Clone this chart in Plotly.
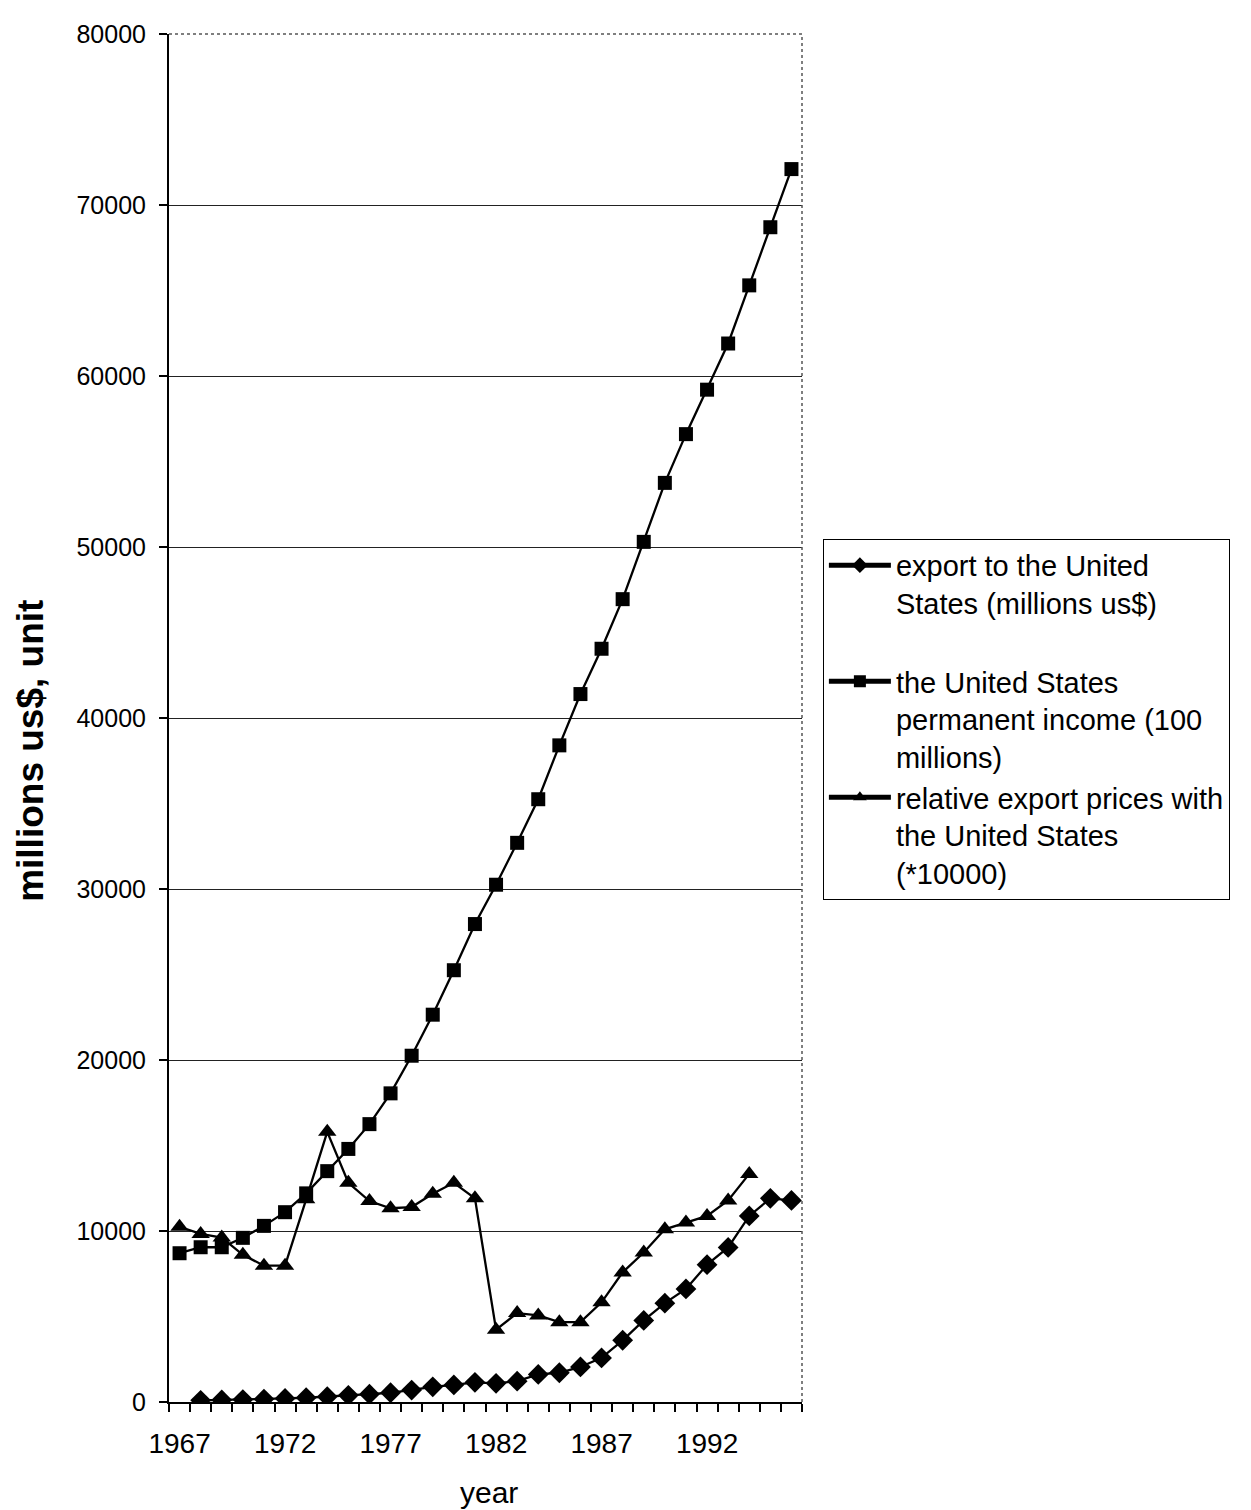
import plotly.graph_objects as go

years = list(range(1967, 1997))
export_us = [None, 100, 120, 140, 170, 210, 250, 310, 390, 460, 540, 700, 890, 1000, 1150,
             1090, 1220, 1610, 1710, 2050, 2580, 3610, 4770, 5780, 6610, 8030, 9040, 10880, 11910, 11790]
us_income = [8700, 9050, 9050, 9600, 10300, 11100, 12200, 13500, 14800, 16250, 18050, 20250, 22650,
             25250, 27950, 30250, 32700, 35250, 38400, 41400, 44050, 46950, 50300, 53750, 56600,
             59200, 61900, 65300, 68700, 72100]
rel_prices = [10250, 9830, 9620, 8610, 7970, 7970, 11850, 15800, 12820, 11750, 11330, 11400, 12180,
              12820, 11910, 4230, 5200, 5060, 4670, 4670, 5830, 7580, 8740, 10100, 10490, 10880,
              11790, 13340, None, None]
names = ["export to the United<br>States (millions us$)<br> ",
         "the United States<br>permanent income (100<br>millions)",
         "relative export prices with<br>the United States<br>(*10000)"]
x_ticks = [1967, 1972, 1977, 1982, 1987, 1992]
y_ticks = [0, 10000, 20000, 30000, 40000, 50000, 60000, 70000, 80000]

FONT = "Arial, Liberation Sans, sans-serif"

fig = go.Figure()
series = [(export_us, "diamond", 16), (us_income, "square", 14), (rel_prices, "triangle-up", 16)]
for (vals, sym, sz), nm in zip(series, names):
    fig.add_trace(go.Scatter(
        x=years, y=vals, name=nm, mode="lines+markers",
        line=dict(color="black", width=2.3),
        marker=dict(symbol=sym, size=sz, color="black"),
    ))

fig.update_layout(
    width=1243, height=1502,
    margin=dict(l=161, r=449, t=17, b=108),
    paper_bgcolor="white", plot_bgcolor="white",
    font=dict(family=FONT, color="black"),
    showlegend=True,
    legend=dict(
        x=1.033, y=0.631, xanchor="left", yanchor="top",
        bordercolor="black", borderwidth=1, bgcolor="white",
        font=dict(size=29, family=FONT, color="black"),
        valign="top", itemsizing="constant", itemwidth=62,
    ),
    xaxis=dict(
        range=[1966.5, 1996.5], tickmode="array", tickvals=x_ticks,
        ticks="outside", ticklen=8, tickcolor="rgba(0,0,0,0)",
        tickfont=dict(size=28), showgrid=False, zeroline=False,
        showline=True, linecolor="black", linewidth=2,
        minor=dict(dtick=1, tick0=1966.5, ticks="outside", ticklen=8,
                   tickcolor="black", tickwidth=1.5, showgrid=False),
        ticklabelstandoff=7,
    ),
    yaxis=dict(
        range=[0, 80000], tickmode="array", tickvals=y_ticks, tickformat="d",
        ticks="outside", ticklen=8, tickcolor="black", tickwidth=1.5,
        tickfont=dict(size=25), showgrid=True, gridcolor="#222", gridwidth=1.2,
        zeroline=False, showline=True, linecolor="black", linewidth=2,
        ticklabelstandoff=8,
    ),
    annotations=[
        dict(text="<b>millions us$, unit</b>", textangle=-90, xref="paper", yref="paper",
             x=-0.218, y=0.476, xanchor="center", yanchor="middle", showarrow=False,
             font=dict(size=37, family=FONT, color="black")),
        dict(text="year", xref="paper", yref="paper", x=0.505, y=-0.066,
             xanchor="center", yanchor="middle", showarrow=False,
             font=dict(size=30, family=FONT, color="black")),
    ],
    shapes=[
        dict(type="line", xref="paper", yref="paper", x0=0, x1=1, y0=1, y1=1,
             line=dict(color="white", width=3), layer="above"),
        dict(type="line", xref="paper", yref="paper", x0=0, x1=1, y0=1, y1=1,
             line=dict(color="#555", width=1.5, dash="dot"), layer="above"),
        dict(type="line", xref="paper", yref="paper", x0=1, x1=1, y0=0, y1=1,
             line=dict(color="#555", width=1.5, dash="dot"), layer="above"),
    ],
)

fig.write_html("out.html")
